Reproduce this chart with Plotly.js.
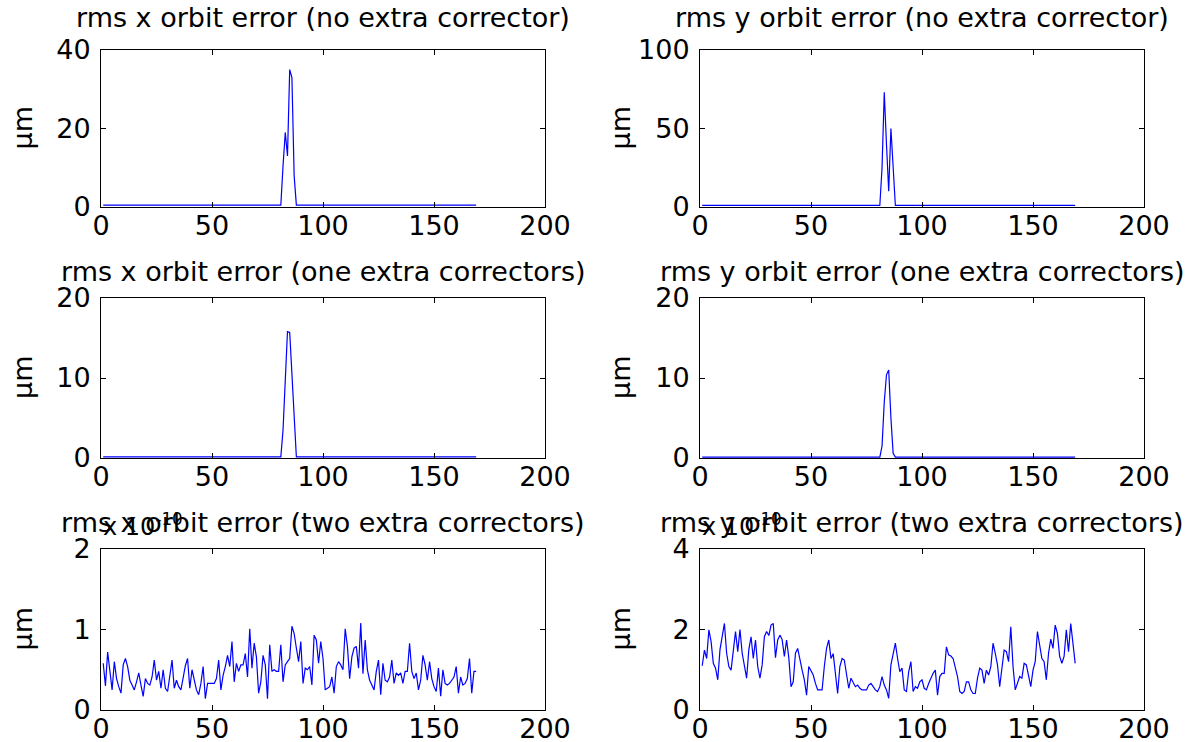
<!DOCTYPE html>
<html>
<head>
<meta charset="utf-8">
<script src="https://cdn.plot.ly/plotly-3.0.1.min.js"></script>
<style>html,body{margin:0;padding:0;background:#fff}#chart{width:1189px;height:742px}</style>
</head>
<body>
<div id="chart"></div>
<script>
// ---- data (sample index 1..169) ----
const titles = [
  "rms x orbit error (no extra corrector)",
  "rms y orbit error (no extra corrector)",
  "rms x orbit error (one extra correctors)",
  "rms y orbit error (one extra correctors)",
  "rms x orbit error (two extra correctors)",
  "rms y orbit error (two extra correctors)"
];
const xTickVals = [0, 50, 100, 150, 200];
const yTicksNoX = [0, 20, 40];
const yTicksNoY = [0, 50, 100];
const yTicksOne = [0, 10, 20];
const yTicksTwoX = [0, 1, 2];   // units of 1e-10
const yTicksTwoY = [0, 2, 4];   // units of 1e-10

const xNoExtra = [
 0.5,0.5,0.5,0.5,0.5,0.5,0.5,0.5,0.5,0.5,0.5,0.5,0.5,0.5,0.5,0.5,0.5,0.5,0.5,0.5,
 0.5,0.5,0.5,0.5,0.5,0.5,0.5,0.5,0.5,0.5,0.5,0.5,0.5,0.5,0.5,0.5,0.5,0.5,0.5,0.5,
 0.5,0.5,0.5,0.5,0.5,0.5,0.5,0.5,0.5,0.5,0.5,0.5,0.5,0.5,0.5,0.5,0.5,0.5,0.5,0.5,
 0.5,0.5,0.5,0.5,0.5,0.5,0.5,0.5,0.5,0.5,0.5,0.5,0.5,0.5,0.5,0.5,0.5,0.5,0.5,0.5,
 0.5,10.5,19,13,35,33,8,
 0.5,0.5,0.5,0.5,0.5,0.5,0.5,0.5,0.5,0.5,0.5,0.5,0.5,0.5,0.5,0.5,0.5,0.5,0.5,0.5,
 0.5,0.5,0.5,0.5,0.5,0.5,0.5,0.5,0.5,0.5,0.5,0.5,0.5,0.5,0.5,0.5,0.5,0.5,0.5,0.5,
 0.5,0.5,0.5,0.5,0.5,0.5,0.5,0.5,0.5,0.5,0.5,0.5,0.5,0.5,0.5,0.5,0.5,0.5,0.5,0.5,
 0.5,0.5,0.5,0.5,0.5,0.5,0.5,0.5,0.5,0.5,0.5,0.5,0.5,0.5,0.5,0.5,0.5,0.5,0.5,0.5,
 0.5,0.5
];
const yNoExtra = [
 1,1,1,1,1,1,1,1,1,1,1,1,1,1,1,1,1,1,1,1,
 1,1,1,1,1,1,1,1,1,1,1,1,1,1,1,1,1,1,1,1,
 1,1,1,1,1,1,1,1,1,1,1,1,1,1,1,1,1,1,1,1,
 1,1,1,1,1,1,1,1,1,1,1,1,1,1,1,1,1,1,1,1,
 1,25,73,40,10,50,23,
 1,1,1,1,1,1,1,1,1,1,1,1,1,1,1,1,1,1,1,1,
 1,1,1,1,1,1,1,1,1,1,1,1,1,1,1,1,1,1,1,1,
 1,1,1,1,1,1,1,1,1,1,1,1,1,1,1,1,1,1,1,1,
 1,1,1,1,1,1,1,1,1,1,1,1,1,1,1,1,1,1,1,1,
 1,1
];
const xOneExtra = [
 0.15,0.15,0.15,0.15,0.15,0.15,0.15,0.15,0.15,0.15,0.15,0.15,0.15,0.15,0.15,0.15,0.15,0.15,0.15,0.15,
 0.15,0.15,0.15,0.15,0.15,0.15,0.15,0.15,0.15,0.15,0.15,0.15,0.15,0.15,0.15,0.15,0.15,0.15,0.15,0.15,
 0.15,0.15,0.15,0.15,0.15,0.15,0.15,0.15,0.15,0.15,0.15,0.15,0.15,0.15,0.15,0.15,0.15,0.15,0.15,0.15,
 0.15,0.15,0.15,0.15,0.15,0.15,0.15,0.15,0.15,0.15,0.15,0.15,0.15,0.15,0.15,0.15,0.15,0.15,0.15,0.15,
 0.15,3.5,10.4,15.8,15.7,10.4,5,
 0.15,0.15,0.15,0.15,0.15,0.15,0.15,0.15,0.15,0.15,0.15,0.15,0.15,0.15,0.15,0.15,0.15,0.15,0.15,0.15,
 0.15,0.15,0.15,0.15,0.15,0.15,0.15,0.15,0.15,0.15,0.15,0.15,0.15,0.15,0.15,0.15,0.15,0.15,0.15,0.15,
 0.15,0.15,0.15,0.15,0.15,0.15,0.15,0.15,0.15,0.15,0.15,0.15,0.15,0.15,0.15,0.15,0.15,0.15,0.15,0.15,
 0.15,0.15,0.15,0.15,0.15,0.15,0.15,0.15,0.15,0.15,0.15,0.15,0.15,0.15,0.15,0.15,0.15,0.15,0.15,0.15,
 0.15,0.15
];
const yOneExtra = [
 0.12,0.12,0.12,0.12,0.12,0.12,0.12,0.12,0.12,0.12,0.12,0.12,0.12,0.12,0.12,0.12,0.12,0.12,0.12,0.12,
 0.12,0.12,0.12,0.12,0.12,0.12,0.12,0.12,0.12,0.12,0.12,0.12,0.12,0.12,0.12,0.12,0.12,0.12,0.12,0.12,
 0.12,0.12,0.12,0.12,0.12,0.12,0.12,0.12,0.12,0.12,0.12,0.12,0.12,0.12,0.12,0.12,0.12,0.12,0.12,0.12,
 0.12,0.12,0.12,0.12,0.12,0.12,0.12,0.12,0.12,0.12,0.12,0.12,0.12,0.12,0.12,0.12,0.12,0.12,0.12,0.12,
 0.12,1.5,7,10.4,11,5,0.6,
 0.12,0.12,0.12,0.12,0.12,0.12,0.12,0.12,0.12,0.12,0.12,0.12,0.12,0.12,0.12,0.12,0.12,0.12,0.12,0.12,
 0.12,0.12,0.12,0.12,0.12,0.12,0.12,0.12,0.12,0.12,0.12,0.12,0.12,0.12,0.12,0.12,0.12,0.12,0.12,0.12,
 0.12,0.12,0.12,0.12,0.12,0.12,0.12,0.12,0.12,0.12,0.12,0.12,0.12,0.12,0.12,0.12,0.12,0.12,0.12,0.12,
 0.12,0.12,0.12,0.12,0.12,0.12,0.12,0.12,0.12,0.12,0.12,0.12,0.12,0.12,0.12,0.12,0.12,0.12,0.12,0.12,
 0.12,0.12
];
// two extra correctors, values in units of 1e-10 um
const xTwoExtra = [
 0.58,0.30,0.72,0.48,0.25,0.60,0.39,0.29,0.21,0.56,
 0.64,0.54,0.37,0.31,0.25,0.35,0.46,0.31,0.17,0.39,
 0.33,0.31,0.41,0.62,0.37,0.48,0.27,0.50,0.27,0.23,
 0.46,0.62,0.27,0.37,0.29,0.25,0.40,0.55,0.64,0.27,
 0.50,0.35,0.25,0.19,0.33,0.54,0.14,0.33,0.33,0.33,
 0.33,0.39,0.62,0.25,0.43,0.54,0.68,0.54,0.85,0.35,
 0.58,0.48,0.56,0.56,0.70,0.41,1.01,0.52,0.83,0.66,
 0.21,0.35,0.68,0.56,0.14,0.81,0.48,0.50,0.48,0.48,
 0.81,0.35,0.56,0.60,0.64,1.04,0.95,0.77,0.60,0.85,
 0.33,0.52,0.50,0.54,0.31,0.93,0.87,0.58,0.85,0.64,
 0.25,0.27,0.29,0.41,0.21,0.54,0.60,0.56,0.50,1.01,
 0.79,0.39,0.66,0.77,0.79,0.52,1.08,0.45,0.87,0.50,
 0.37,0.31,0.25,0.48,0.62,0.19,0.58,0.37,0.35,0.41,
 0.62,0.33,0.46,0.43,0.46,0.33,0.48,0.48,0.83,0.48,
 0.39,0.46,0.25,0.37,0.68,0.56,0.37,0.60,0.39,0.29,
 0.23,0.52,0.17,0.50,0.33,0.31,0.33,0.37,0.41,0.54,
 0.21,0.41,0.31,0.33,0.39,0.64,0.21,0.48,0.48
];
const yTwoExtra = [
 1.10,1.49,1.28,1.99,1.70,1.16,1.04,0.75,1.50,1.82,
 2.15,1.41,1.08,0.99,1.50,1.95,1.45,2.00,1.41,1.08,
 0.79,1.50,1.82,1.28,1.74,1.08,0.79,1.12,1.82,1.95,
 1.85,2.11,2.15,1.30,1.74,1.86,1.75,1.33,1.74,1.30,
 0.58,0.70,1.41,1.53,1.30,0.99,0.75,0.37,1.08,0.99,
 0.87,0.66,0.50,0.50,0.50,1.08,1.53,1.74,1.28,1.40,
 0.95,0.41,1.08,1.28,1.24,0.91,0.54,0.79,0.70,0.58,
 0.62,0.54,0.50,0.50,0.50,0.62,0.66,0.58,0.50,0.46,
 0.58,0.83,0.62,0.50,0.29,1.12,1.41,1.66,1.28,0.95,
 1.04,0.50,0.46,0.95,1.20,0.46,0.58,0.54,0.70,0.75,
 0.54,0.50,0.66,0.79,0.91,0.99,0.37,0.83,0.91,0.91,
 1.57,1.37,1.34,1.28,1.04,0.83,0.46,0.41,0.46,0.70,
 0.70,0.50,0.41,0.41,0.79,1.04,0.99,0.66,0.99,0.87,
 1.08,1.66,1.41,1.12,0.58,1.04,1.49,1.45,1.20,2.07,
 1.08,0.50,0.66,0.83,0.79,1.16,1.12,0.87,0.58,0.99,
 1.20,1.95,1.57,1.28,1.20,0.75,1.41,1.76,1.53,2.11,
 1.90,1.33,1.16,1.33,1.99,1.45,2.15,1.57,1.16
];

const series = [xNoExtra, yNoExtra, xOneExtra, yOneExtra, xTwoExtra, yTwoExtra];
const yTicks = [yTicksNoX, yTicksNoY, yTicksOne, yTicksOne, yTicksTwoX, yTicksTwoY];
const yUnit = "\u03bcm";
const expLabel = "x 10<sup>-10</sup>";

// ---- layout ----
const W = 1189, H = 742;
const FONT = "DejaVu Sans, sans-serif";
const FS = 27;
const colPx = [[101, 545], [700, 1144]];
const rowPx = [[50, 207], [298, 458], [549, 710]];
const titleY = [18, 272, 522];
const unitX = [22, 620];

const data = [], annotations = [];
const layout = {
  width: W, height: H,
  margin: {l: 0, r: 0, t: 0, b: 0},
  paper_bgcolor: "#fff", plot_bgcolor: "#fff",
  showlegend: false,
  font: {family: FONT, size: FS, color: "#000"}
};

series.forEach((vals, i) => {
  const r = Math.floor(i / 2), c = i % 2;
  const n = i + 1;
  const xs = vals.map((v, k) => k + 1);
  const xa = "x" + (n === 1 ? "" : n), ya = "y" + (n === 1 ? "" : n);
  data.push({x: xs, y: vals, type: "scatter", mode: "lines",
    line: {color: "#0000ff", width: 1.2}, xaxis: xa, yaxis: ya, hoverinfo: "skip"});
  const xd = [colPx[c][0] / W, colPx[c][1] / W];
  const yd = [1 - rowPx[r][1] / H, 1 - rowPx[r][0] / H];
  const yt = yTicks[i];
  const common = {
    ticks: "inside", ticklen: 5, tickwidth: 1, tickcolor: "#000",
    showline: true, linecolor: "#000", linewidth: 1, mirror: "ticks",
    showgrid: false, zeroline: false, fixedrange: true,
    tickfont: {family: FONT, size: FS, color: "#000"}
  };
  layout["xaxis" + (n === 1 ? "" : n)] = Object.assign({}, common, {
    domain: xd, anchor: ya, range: [0, 200], tickmode: "array",
    tickvals: xTickVals, ticktext: xTickVals.map(String), ticklabelstandoff: -5
  });
  layout["yaxis" + (n === 1 ? "" : n)] = Object.assign({}, common, {
    domain: yd, anchor: xa, range: [yt[0], yt[2]], tickmode: "array",
    tickvals: yt, ticktext: yt.map(String), ticklabelstandoff: 4
  });
  const cx = (colPx[c][0] + colPx[c][1]) / 2 / W;
  annotations.push({text: titles[i], xref: "paper", yref: "paper",
    x: cx, y: 1 - titleY[r] / H, xanchor: "center", yanchor: "middle",
    showarrow: false, font: {family: FONT, size: FS, color: "#000"}});
  annotations.push({text: yUnit, xref: "paper", yref: "paper",
    x: unitX[c] / W, y: 1 - (rowPx[r][0] + rowPx[r][1]) / 2 / H,
    xanchor: "center", yanchor: "middle", textangle: -90,
    showarrow: false, font: {family: FONT, size: FS, color: "#000"}});
  if (r === 2) {
    annotations.push({text: expLabel, xref: "paper", yref: "paper",
      x: colPx[c][0] / W, y: 1 - 543 / H, xanchor: "left", yanchor: "bottom",
      showarrow: false, font: {family: FONT, size: 24, color: "#000"}});
  }
});
layout.annotations = annotations;

Plotly.newPlot("chart", data, layout, {staticPlot: true, displayModeBar: false});
</script>
</body>
</html>
